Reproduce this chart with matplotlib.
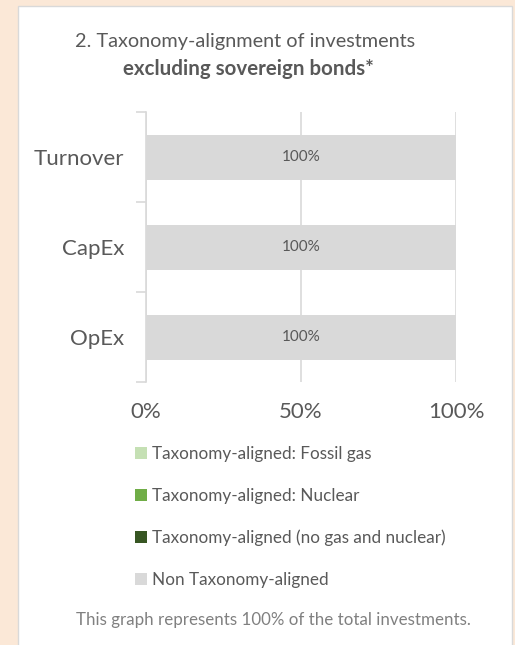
import matplotlib.pyplot as plt
from matplotlib.patches import Rectangle, Patch

plt.rcParams['font.family'] = ['Lato', 'DejaVu Sans']

categories = ['OpEx', 'CapEx', 'Turnover']
series_names = ['Taxonomy-aligned: Fossil gas',
                'Taxonomy-aligned: Nuclear',
                'Taxonomy-aligned (no gas and nuclear)',
                'Non Taxonomy-aligned']
series_values = [
    [0, 0, 0],
    [0, 0, 0],
    [0, 0, 0],
    [100, 100, 100],
]
series_colors = ['#C5E0B4', '#70AD47', '#375623', '#D9D9D9']
x_ticks = [0, 50, 100]
x_tick_labels = ['0%', '50%', '100%']

text_col = '#595959'
grid_col = '#D9D9D9'

fig = plt.figure(figsize=(5.15, 6.45), dpi=100)
fig.patch.set_facecolor('#FBE8D7')

# white panel
panel = Rectangle((18 / 515, -0.01), (512 - 18) / 515, 1 - 6 / 645 + 0.01,
                  transform=fig.transFigure, facecolor='white',
                  edgecolor='#D9D9D9', linewidth=1.0, zorder=-5)
fig.patches.append(panel)

ax = fig.add_axes([146 / 515, 263 / 645, (456 - 146) / 515, (382 - 112) / 645])
ax.set_zorder(2)
ax.set_facecolor('none')

ypos = list(range(len(categories)))
left = [0] * len(categories)
for name, vals, col in zip(series_names, series_values, series_colors):
    bars = ax.barh(ypos, vals, left=left, height=0.5, color=col, label=name, zorder=2)
    labels = ['%d%%' % v if v > 0 else '' for v in vals]
    ax.bar_label(bars, labels=labels, label_type='center', fontsize=11, color=text_col)
    left = [a + b for a, b in zip(left, vals)]

ax.set_xlim(0, 100)
ax.set_ylim(-0.5, len(categories) - 0.5)
ax.set_xticks(x_ticks)
ax.set_xticklabels(x_tick_labels, fontsize=16, color=text_col)
ax.set_yticks(ypos)
ax.set_yticklabels(categories, fontsize=16, color=text_col)
ax.set_yticks([-0.5, 0.5, 1.5, 2.5], minor=True)
ax.tick_params(axis='x', length=0, pad=14.5)
ax.tick_params(axis='y', which='major', length=0, pad=15.5)
ax.tick_params(axis='y', which='minor', length=7, color=grid_col, width=1.2)
ax.grid(axis='x', color=grid_col, linewidth=1.2, zorder=0)
for s in ['top', 'right', 'bottom']:
    ax.spines[s].set_visible(False)
ax.spines['left'].set_color(grid_col)
ax.spines['left'].set_linewidth(1.2)

fig.text(245 / 515, 1 - 41 / 645, '2. Taxonomy-alignment of investments',
         ha='center', va='center', fontsize=14.3, color=text_col)
fig.text(248 / 515, 1 - 69 / 645, 'excluding sovereign bonds*',
         ha='center', va='center', fontsize=14.8, color=text_col, fontweight='bold')

handles = [Patch(facecolor=c, edgecolor='none') for c in series_colors]
fig.legend(handles, series_names, loc='upper left',
           bbox_to_anchor=(120 / 515, 1 - 431 / 645), frameon=False,
           fontsize=12.3, labelcolor=text_col, handlelength=0.7, handleheight=0.7,
           handletextpad=0.3, labelspacing=1.5)

fig.text(273 / 515, 1 - 620 / 645, 'This graph represents 100% of the total investments.',
         ha='center', va='center', fontsize=12.2, color='#808080')

fig.savefig('out.png', dpi=100, facecolor=fig.get_facecolor())
